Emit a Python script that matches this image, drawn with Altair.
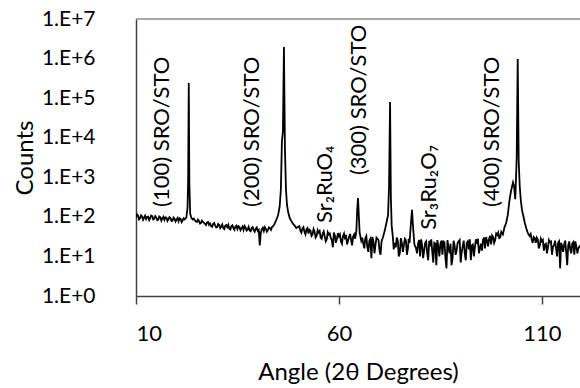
import altair as alt
import pandas as pd

# ---- XRD scan (angle in degrees 2-theta, counts) ----
angle_1 = [10.0, 10.5, 11.0, 11.5, 12.0, 12.5, 13.0, 13.5, 14.0, 14.5, 15.0, 15.5, 16.0, 16.5,
           17.0, 17.5, 18.0, 18.5, 19.0, 19.5, 20.0, 20.5, 21.0, 21.5, 22.0, 22.4, 22.7, 22.85,
           23.0, 23.15, 23.35, 23.7, 24.0]
counts_1 = [98, 108, 92, 103, 95, 88, 101, 93, 104, 90, 96, 85, 98, 91,
            84, 95, 88, 93, 80, 90, 85, 77, 89, 82, 86, 96, 170, 900,
            240000, 700, 120, 92, 86]
angle_1b = [10.25, 10.75, 11.25, 11.75, 12.25, 12.75, 13.25, 13.75, 14.25, 14.75, 15.25, 15.75,
            16.25, 16.75, 17.25, 17.75, 18.25, 18.75, 19.25, 19.75, 20.25, 20.75, 21.25, 21.75]
counts_1b = [115, 86, 110, 84, 107, 99, 83, 108, 86, 104, 82, 102,
             80, 100, 97, 79, 99, 78, 96, 76, 94, 92, 74, 92]

angle_2 = [24.5, 25.0, 25.5, 26.0, 26.5, 27.0, 27.5, 28.0, 28.5, 29.0, 29.5, 30.0, 30.5, 31.0,
           31.5, 32.0, 32.5, 33.0, 33.5, 34.0, 34.5, 35.0, 35.5, 36.0, 36.5, 37.0, 37.5, 38.0,
           38.5, 39.0, 39.5, 40.0, 40.5, 41.0, 41.5, 42.0, 42.5, 43.0, 43.5, 44.0, 44.5,
           45.0, 45.4, 45.7, 45.95, 46.2, 46.45, 46.7, 46.95, 47.2, 47.5, 47.9, 48.3, 48.7,
           49.1, 49.5, 50.0]
counts_2 = [82, 74, 80, 70, 75, 66, 72, 63, 58, 67, 60, 55, 63, 57,
            52, 60, 55, 50, 58, 52, 57, 49, 55, 51, 47, 54, 48, 45,
            52, 46, 50, 44, 19, 48, 44, 50, 46, 52, 55, 62, 80,
            110, 180, 500, 8000, 14000, 1950000, 5000, 500, 200, 130, 92, 78, 66,
            60, 52, 56]
angle_2b = [24.25, 24.75, 25.25, 25.75, 26.25, 26.75, 27.25, 27.75, 28.25, 28.75,
            29.25, 29.75, 30.25, 30.75, 31.25, 31.75, 32.25, 32.75, 33.25, 33.75,
            34.25, 34.75, 35.25, 35.75, 36.25, 36.75, 37.25, 37.75, 38.25, 38.75,
            39.25, 39.75, 40.25, 40.75, 41.25, 41.75, 42.25, 42.75, 43.25, 43.75]
counts_2b = [90, 76, 85, 68, 80, 71, 62, 74, 68, 56,
             70, 54, 66, 52, 64, 49, 62, 63, 48, 61,
             47, 60, 58, 46, 57, 59, 45, 56, 43, 55,
             42, 54, 47, 40, 53, 55, 42, 54, 47, 58]

angle_3 = [50.5, 51.0, 51.5, 52.0, 52.5, 53.0, 53.5, 54.0, 54.5, 55.0, 55.5, 56.0, 56.5, 57.0,
           57.5, 58.0, 58.5, 59.0, 59.5, 60.0, 60.5, 61.0, 61.5, 62.0, 62.5, 63.0, 63.5, 64.0,
           64.3, 64.5, 64.7, 64.9, 65.1, 65.5]
counts_3 = [45, 51, 42, 48, 38, 45, 36, 42, 33, 40, 30, 38, 32, 27,
            36, 29, 17, 34, 28, 32, 24, 33, 27, 20, 31, 26, 32, 28,
            45, 150, 300, 110, 40, 25]
angle_3b = [50.25, 50.75, 51.25, 51.75, 52.25, 52.75, 53.25, 53.75, 54.25, 54.75,
            55.25, 55.75, 56.25, 56.75, 57.25, 57.75, 58.25, 58.75, 59.25, 59.75,
            60.25, 60.75, 61.25, 61.75, 62.25, 62.75, 63.25, 63.75]
counts_3b = [58, 40, 55, 36, 52, 47, 33, 49, 30, 46,
             44, 28, 43, 24, 41, 38, 26, 40, 22, 39,
             36, 21, 38, 35, 25, 37, 19, 36]

angle_4 = [66.0, 66.5, 67.0, 67.5, 68.0, 68.5, 69.0, 69.5, 70.0, 70.5, 70.9, 71.3, 71.7, 72.1,
           72.35, 72.6, 72.8, 73.0, 73.3, 73.7, 74.0, 74.5, 75.0, 75.5, 76.0, 76.5, 77.0, 77.4,
           77.7, 78.0, 78.3, 78.6, 79.0]
counts_4 = [21, 29, 17, 25, 9, 24, 19, 28, 14, 24, 32, 45, 70, 110,
            600, 80000, 300, 60, 30, 22, 17, 25, 12, 22, 19, 26, 16, 22,
            60, 150, 50, 20, 16]
angle_4b = [65.75, 66.25, 66.75, 67.25, 67.75, 68.25, 68.75, 69.25, 69.75, 70.25,
            73.5, 74.25, 74.75, 75.25, 75.75, 76.25, 76.75, 77.2]
counts_4b = [30, 16, 33, 13, 28, 31, 12, 30, 26, 11,
             15, 30, 10, 29, 13, 28, 11, 28]

angle_5 = [79.5, 80.0, 80.5, 81.0, 81.5, 82.0, 82.5, 83.0, 83.5, 84.0, 84.5, 85.0, 85.5, 86.0,
           86.5, 87.0, 87.5, 88.0, 88.5, 89.0, 89.5, 90.0, 90.5, 91.0, 91.5, 92.0, 92.5, 93.0,
           93.5, 94.0, 94.5, 95.0, 95.5, 96.0, 96.5, 97.0, 97.5, 98.0, 98.5, 99.0, 99.5, 100.0]
counts_5 = [21, 10, 19, 14, 24, 8, 18, 13, 22, 6, 17, 21, 11, 23,
            5, 16, 21, 9, 19, 14, 24, 7, 18, 12, 22, 15, 8, 20,
            17, 23, 12, 21, 26, 16, 25, 28, 20, 31, 26, 35, 29, 42]
angle_5b = [79.25, 79.75, 80.25, 80.75, 81.25, 81.75, 82.25, 82.75, 83.25, 83.75,
            84.25, 84.75, 85.25, 85.75, 86.25, 86.75, 87.25, 87.75, 88.25, 88.75,
            89.25, 89.75, 90.25, 90.75, 91.25, 91.75, 92.25, 92.75, 93.25, 93.75,
            94.25, 94.75, 95.25, 95.75, 96.25, 96.75, 97.25, 97.75, 98.25, 98.75,
            99.25, 99.75]
counts_5b = [12, 26, 27, 9, 22, 12, 25, 27, 7, 21,
             26, 10, 25, 24, 9, 26, 12, 6, 25, 11,
             22, 26, 13, 25, 8, 24, 27, 19, 10, 27,
             28, 16, 14, 30, 31, 18, 33, 34, 22, 38,
             40, 30]

angle_6 = [100.4, 100.8, 101.2, 101.6, 102.0, 102.4, 102.9, 103.15, 103.45, 103.8, 104.05, 104.3,
           104.55, 104.8, 105.1, 105.4, 105.8, 106.2, 106.6, 107.0, 107.5, 108.0, 108.5, 109.0,
           109.5, 110.0, 110.5, 111.0, 111.5, 112.0, 112.5, 113.0, 113.5, 114.0, 114.5, 115.0,
           115.5, 116.0, 116.5, 117.0, 117.5, 118.0, 118.5, 119.0, 119.4]
counts_6 = [36, 55, 70, 110, 250, 450, 740, 600, 280, 3000, 980000, 2500,
            600, 270, 150, 110, 70, 50, 38, 33, 27, 31, 22, 27,
            19, 24, 14, 21, 17, 23, 11, 19, 16, 22, 5, 18,
            20, 13, 19, 15, 21, 11, 18, 16, 19]
angle_6b = [107.25, 107.75, 108.25, 108.75, 109.25, 109.75, 110.25, 110.75, 111.25, 111.75,
            112.25, 112.75, 113.25, 113.75, 114.25, 114.75, 115.25, 115.75, 116.25, 116.75,
            117.25, 117.75, 118.25, 118.75]
counts_6b = [37, 22, 29, 30, 16, 28, 26, 20, 12, 26,
             24, 18, 25, 10, 24, 22, 13, 25, 6, 24,
             12, 23, 24, 12]

# ---- peak annotations ----
label_text = ["(100) SRO/STO", "(200) SRO/STO", "Sr₂RuO₄", "(300) SRO/STO", "Sr₃Ru₂O₇", "(400) SRO/STO"]
label_angle = [16.4, 38.6, 56.5, 64.9, 82.2, 97.7]
label_counts = [178, 178, 70, 1140, 47, 178]

# ---- axes ----
x_ticks = [10, 60, 110]
y_ticks = [1, 10, 100, 1000, 10000, 100000, 1000000, 10000000]
x_domain = [10, 119.4]
y_domain = [1, 10000000]

df = pd.DataFrame({
    "angle": angle_1 + angle_1b + angle_2 + angle_2b + angle_3 + angle_3b
             + angle_4 + angle_4b + angle_5 + angle_5b + angle_6 + angle_6b,
    "counts": counts_1 + counts_1b + counts_2 + counts_2b + counts_3 + counts_3b
              + counts_4 + counts_4b + counts_5 + counts_5b + counts_6 + counts_6b,
}).sort_values("angle")
labels = pd.DataFrame({"label": label_text, "angle": label_angle, "counts": label_counts})
top = pd.DataFrame({"angle": [x_domain[0]], "a1": [x_domain[1]], "counts": [y_domain[1]]})

FONT = "Lato"
xs = alt.Scale(domain=x_domain, nice=False, zero=False)
ys = alt.Scale(type="log", domain=y_domain, nice=False)
x_axis = alt.Axis(title="Angle (2θ Degrees)", values=x_ticks, tickSize=8,
                  labelFontSize=22, labelPadding=19, titlePadding=16)
y_axis = alt.Axis(title="Counts", values=y_ticks, ticks=False, labelPadding=41,
                  labelFontSize=21, titlePadding=4,
                  labelExpr="'1.E+' + format(log(datum.value)/LN10, '.0f')")

line = alt.Chart(df).mark_line(color="black", strokeWidth=1.8, clip=True).encode(
    x=alt.X("angle:Q", scale=xs, axis=x_axis),
    y=alt.Y("counts:Q", scale=ys, axis=y_axis),
)

border = alt.Chart(top).mark_rule(color="#8c8c8c", strokeWidth=1.5).encode(
    x=alt.X("angle:Q", scale=xs, axis=x_axis),
    x2="a1:Q",
    y=alt.Y("counts:Q", scale=ys, axis=y_axis),
)

text = alt.Chart(labels).mark_text(angle=270, align="left", baseline="middle",
                                   font=FONT, fontSize=22, color="black").encode(
    x=alt.X("angle:Q", scale=xs, axis=x_axis),
    y=alt.Y("counts:Q", scale=ys, axis=y_axis),
    text="label:N",
)

chart = alt.layer(line, border, text).properties(
    width=444, height=277,
    autosize="none",
    padding={"left": 136, "top": 19, "right": 0, "bottom": 92},
).configure_view(stroke=None).configure_axis(
    grid=False,
    domainColor="#404040", domainWidth=1.5,
    tickColor="#404040", tickWidth=1.5,
    labelFont=FONT, labelColor="black",
    titleFont=FONT, titleFontSize=24, titleFontWeight="normal", titleColor="black",
)

chart.save("out.html", embed_options={"renderer": "svg", "actions": False})
